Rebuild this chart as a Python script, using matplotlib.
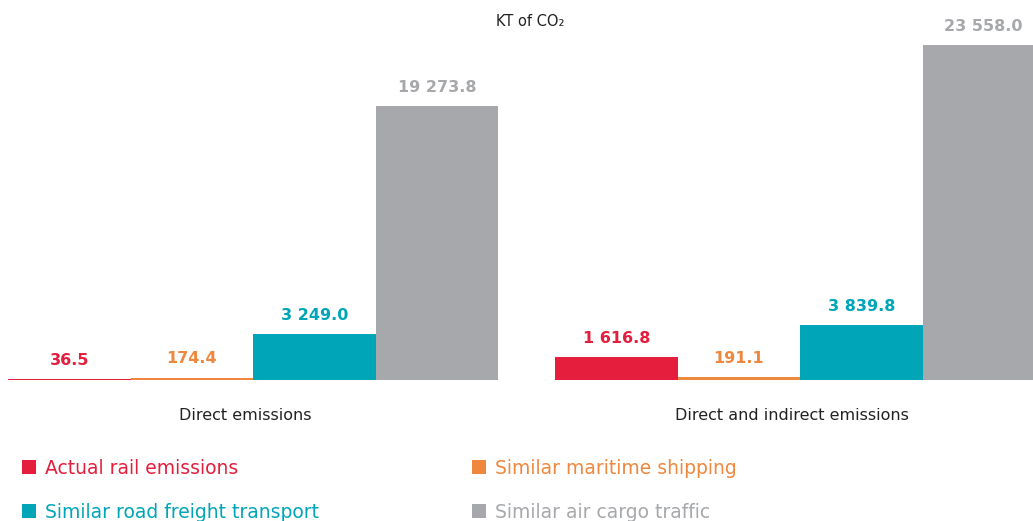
import matplotlib
matplotlib.use("Agg")
import matplotlib.pyplot as plt
from matplotlib.patches import Rectangle

plt.rcParams['font.family'] = ['DejaVu Sans']

# --- data ---
groups = ['Direct emissions', 'Direct and indirect emissions']
series = ['Actual rail emissions', 'Similar maritime shipping',
          'Similar road freight transport', 'Similar air cargo traffic']
values = [
    [36.5, 1616.8],      # rail
    [174.4, 191.1],      # maritime
    [3249.0, 3839.8],    # road
    [19273.8, 23558.0],  # air
]
colors = ['#E41E3C', '#EF873D', '#00A6B8', '#A6A8AB']


def fmt(v):
    return f"{v:,.1f}".replace(',', ' ')


fig = plt.figure(figsize=(10.33, 5.21), dpi=100)
# axes in pixel-like units so the layout matches the reference
ax = fig.add_axes([0, 141 / 521, 1, 380 / 521])
ax.set_xlim(0, 1033)
ax.set_ylim(0, 23558.0 * 380 / 335)
ax.axis('off')

bar_w = 122.5
group_start = [8, 555]
for i, (name, vals, c) in enumerate(zip(series, values, colors)):
    for g, v in enumerate(vals):
        x = group_start[g] + i * bar_w + bar_w / 2
        ax.bar(x, v, width=bar_w, color=c, linewidth=0)
        ax.annotate(fmt(v), (x, v), xytext=(0, 8), textcoords='offset points',
                    ha='center', va='bottom', color=c, fontsize=11.5,
                    fontweight='bold')

# category labels sit a little left of the group centre in the reference
label_x = [245, 792]
for xc, name in zip(label_x, groups):
    fig.text(xc / 1033, 1 - 415 / 521, name, ha='center', va='center',
             fontsize=11.5, color='#222222')

fig.text(530 / 1033, 1 - 22 / 521, 'KT of CO\u2082', ha='center', va='center',
         fontsize=10.5, color='#222222')

# legend, two columns
leg_pos = [(22, 467), (472, 467), (22, 511), (472, 511)]
for (px, py), name, c in zip(leg_pos, series, colors):
    fig.patches.append(Rectangle((px / 1033, 1 - (py + 7) / 521), 14 / 1033, 14 / 521,
                                 transform=fig.transFigure, color=c, linewidth=0))
    fig.text((px + 23) / 1033, 1 - (py + 1) / 521, name, ha='left', va='center',
             fontsize=13.5, color=c)

fig.savefig('out.png', dpi=100)
